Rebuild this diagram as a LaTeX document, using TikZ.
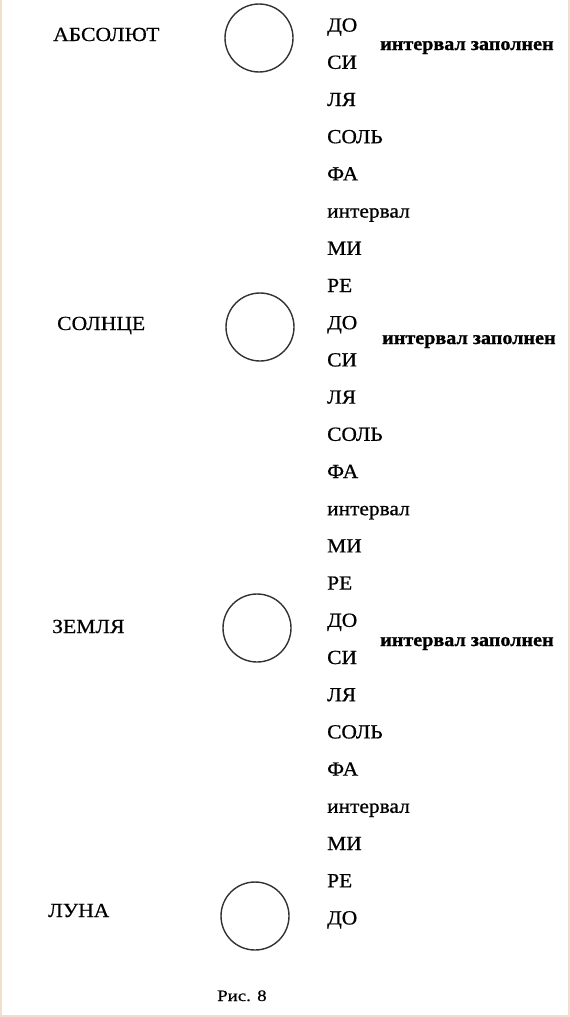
\documentclass[tikz,border=0pt]{standalone}
\usepackage{fontspec}
\setmainfont{Liberation Serif}
\begin{document}
\begin{tikzpicture}[x=1pt,y=-1pt,
  note/.style={anchor=base west,inner sep=0pt,font=\addfontfeature{FakeStretch=1.07,FakeBold=0.8}\fontsize{20}{23}\selectfont},
  body/.style={anchor=base west,inner sep=0pt,font=\addfontfeature{FakeStretch=1.08,FakeBold=0.5}\fontsize{20}{23}\selectfont},
  filled/.style={anchor=base west,inner sep=0pt,font=\bfseries\addfontfeature{FakeStretch=1.06,FakeBold=1}\fontsize{19}{22}\selectfont},
  caption/.style={anchor=base west,inner sep=0pt,font=\addfontfeature{FakeStretch=1.18,FakeBold=0.5}\fontsize{16}{19}\selectfont},
  orb/.style={circle,draw=black!80,line width=1.4pt,minimum size=68pt,inner sep=0pt},
  frame/.style={draw=brown!25!white,line width=2.5pt}]
\useasboundingbox (0,0) rectangle (570,1017);
\fill[white] (0,0) rectangle (570,1017);
\draw[frame] (1,0) -- (1,1016) -- (569,1016) -- (569,0);
% bodies
\node[body] (abs) at (53,41) {АБСОЛЮТ};
\node[body] (sun) at (57,330) {СОЛНЦЕ};
\node[body] (earth) at (52,633) {ЗЕМЛЯ};
\node[body] (moon) at (48,917) {ЛУНА};
% circles
\node[orb] (c1) at (259,38) {};
\node[orb] (c2) at (260,327) {};
\node[orb] (c3) at (257,628) {};
\node[orb] (c4) at (255,916) {};
% scale of notes
\foreach \t [count=\i from 0] in {ДО,СИ,ЛЯ,СОЛЬ,ФА,интервал,МИ,РЕ,ДО,СИ,ЛЯ,СОЛЬ,ФА,интервал,МИ,РЕ,ДО,СИ,ЛЯ,СОЛЬ,ФА,интервал,МИ,РЕ,ДО}
  \node[note] (n\i) at (327,{31.6+37.2*\i}) {\t};
% filled intervals
\node[filled] (f1) at (380,50) {интервал заполнен};
\node[filled] (f2) at (382,344) {интервал заполнен};
\node[filled] (f3) at (380,646) {интервал заполнен};
% caption
\node[caption] (cap) at (217,1001) {Рис. 8};
\end{tikzpicture}
\end{document}
